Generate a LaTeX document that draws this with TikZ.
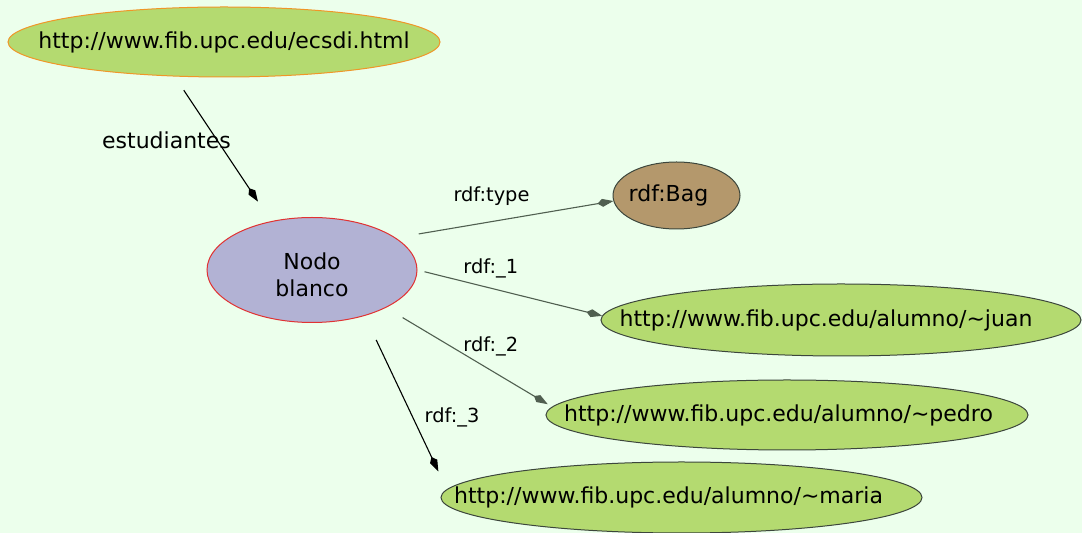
\documentclass[tikz,border=0pt]{standalone}
\usepackage{fontspec}
\setmainfont{DejaVu Sans}
\usetikzlibrary{shapes.geometric,arrows.meta}

\definecolor{bgcol}{RGB}{236,255,236}
\definecolor{urifill}{RGB}{180,218,112}
\definecolor{blankfill}{RGB}{178,178,212}
\definecolor{bagfill}{RGB}{180,152,108}
\definecolor{edgegray}{RGB}{80,95,80}
\definecolor{outline}{RGB}{60,70,60}

\tikzset{
  res/.style={ellipse,draw=outline,line width=0.5pt,inner ysep=0pt,inner xsep=-10pt,font=\fontsize{11}{13.5}\selectfont},
  uri/.style={res,fill=urifill,inner xsep=-95pt},
  prop/.style={line width=0.55pt,-{Kite[length=8pt,width=4pt,inset=2.5pt]}},
  proplabel/.style={anchor=base,font=\fontsize{9.7}{11}\selectfont}
}

\begin{document}
\begin{tikzpicture}[x=0.5pt,y=-0.5pt]
\fill[bgcol] (0,0) rectangle (1082,533);
\useasboundingbox (0,0) rectangle (1082,533);

\node[uri,draw={rgb,255:red,240;green,150;blue,40},minimum width=216pt,minimum height=35pt] (ecsdi) at (224,42) {http://www.fib.upc.edu/ecsdi.html};
\node[res,fill=blankfill,draw={rgb,255:red,225;green,50;blue,50},minimum width=105pt,minimum height=52.5pt,align=center,text height=27pt] (nodo) at (312,270) {Nodo\\blanco};
\node[res,fill=bagfill,minimum width=63.5pt,minimum height=33.5pt] (bag) at (676.5,195.5) {rdf:Bag\hspace*{8pt}};
\node[uri,minimum width=240pt,minimum height=36pt] (juan) at (841,320) {http://www.fib.upc.edu/alumno/\textasciitilde juan\hspace*{15pt}};
\node[uri,minimum width=241pt,minimum height=35pt] (pedro) at (787,415) {http://www.fib.upc.edu/alumno/\textasciitilde pedro\hspace*{8.5pt}};
\node[uri,minimum width=240.5pt,minimum height=35.5pt] (maria) at (681.5,497.5) {http://www.fib.upc.edu/alumno/\textasciitilde maria\hspace*{13pt}};

% arcs
\draw[prop,shorten <=8.25pt,shorten >=11.75pt] (ecsdi.215.5) -- (nodo.130.5);
\draw[prop,edgegray,shorten <=11.6pt] (nodo.21.1) -- (bag.185);
\draw[prop,edgegray,shorten <=3.65pt] (nodo.-0.9) -- (juan.179);
\draw[prop,edgegray,shorten <=9.65pt,shorten >=2.5pt] (nodo.-27.2) -- (pedro.178.1);
\draw[prop,shorten <=13.3pt,shorten >=9.9pt] (nodo.-41.4) -- (maria.178.9);

% labels
\node[proplabel,font=\fontsize{11}{13}\selectfont] (lestud) at (166.5,148.3) {estudiantes};
\node[proplabel] (ltype) at (491.5,201.7) {rdf:type};
\node[proplabel] (l1) at (490.8,273.3) {rdf:\_1};
\node[proplabel] (l2) at (490.8,351.7) {rdf:\_2};
\node[proplabel] (l3) at (452,422.3) {rdf:\_3};
\end{tikzpicture}
\end{document}
